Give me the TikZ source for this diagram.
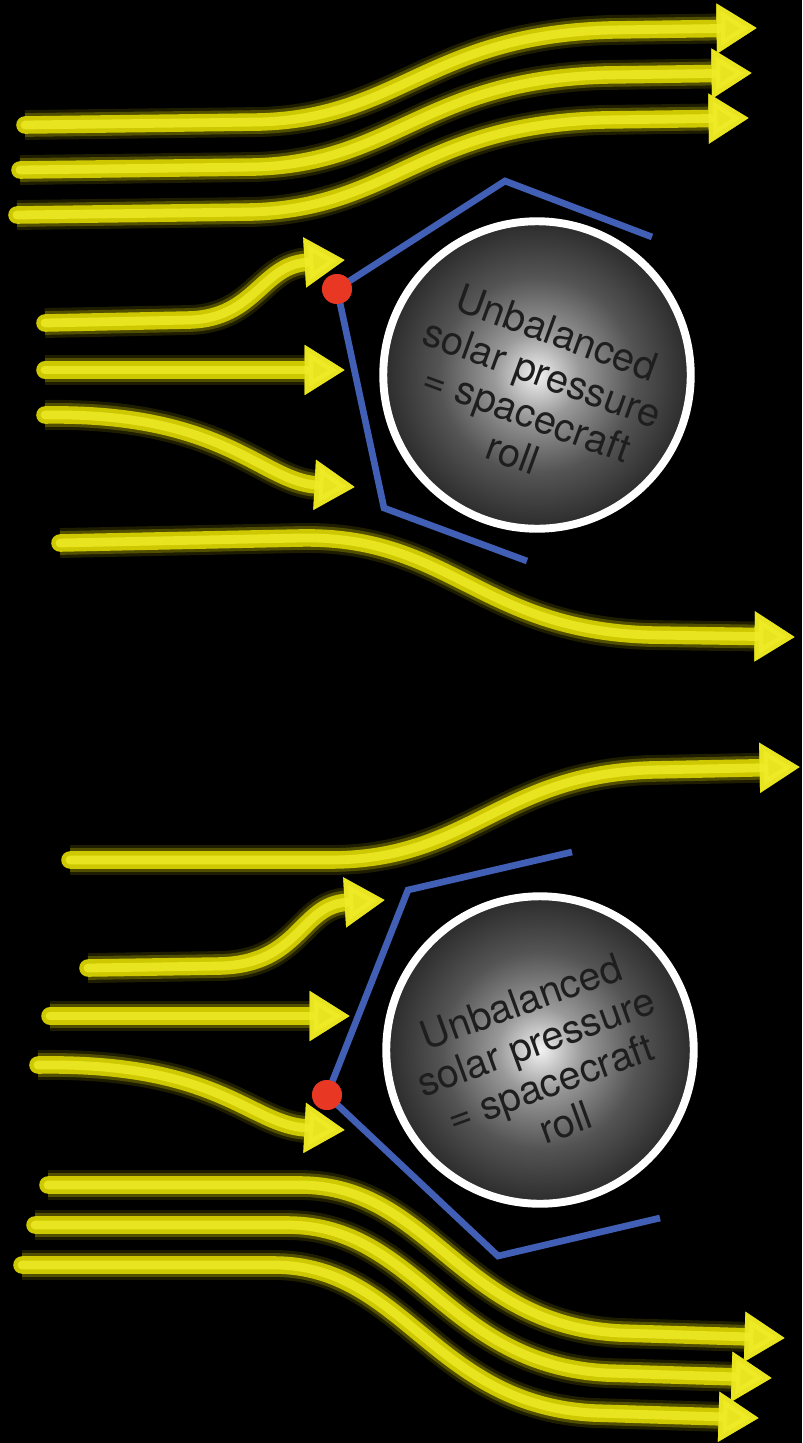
\documentclass[tikz,border=0pt]{standalone}
\usepackage{fontspec}
\newfontfamily\helv{TeX Gyre Heros}
\usetikzlibrary{arrows.meta}

\definecolor{raymid}{RGB}{205,200,0}
\definecolor{raycore}{RGB}{240,236,40}
\definecolor{shieldblue}{RGB}{65,95,180}
\definecolor{pivotred}{RGB}{232,55,35}
\definecolor{capgray}{RGB}{30,30,30}

% gray sphere, light in the middle
\pgfdeclareradialshading{sphere}{\pgfpoint{0bp}{0bp}}{%
  color(0bp)=(black!5); color(7bp)=(black!40); color(16bp)=(black!67); color(25bp)=(black!83); color(50bp)=(black!83)}

\begin{document}
\begin{tikzpicture}[x=0.02cm, y=-0.02cm,
    ray/.style={draw=raymid, line width=10pt, line cap=round,
        -{Triangle[length=23pt, width=27pt]},
        preaction={draw=raymid, line width=17pt, opacity=.15},
        preaction={draw=raymid, line width=13.5pt, opacity=.3},
        postaction={draw=raycore, line width=5pt, opacity=.8}},
    ball/.style={circle, inner sep=0pt, minimum size=175pt, shading=sphere, draw=white, line width=4.5pt},
    caption/.style={align=center, text=capgray, font=\helv\fontsize{22.5}{24.5}\selectfont},
    shield/.style={draw=shieldblue, line width=3.8pt, line join=miter},
    pivot/.style={circle, inner sep=0pt, minimum size=17pt, fill=pivotred}]
    \path[use as bounding box, fill=black] (0,0) rectangle (802,1443);

    % upper case: hinge on the top left of the sail
    \draw[ray] (25,125) -- (260,122) .. controls (400,118) and (430,35) .. (610,30) -- (757,28);
    \draw[ray] (20,170) -- (255,167) .. controls (395,163) and (425,80) .. (605,75) -- (752,73);
    \draw[ray] (17,215) -- (252,212) .. controls (392,208) and (422,125) .. (602,120) -- (749,118);

    \draw[ray] (45,323) -- (190,320) .. controls (255,318) and (262,265) .. (345,260);
    \draw[ray] (45,370) -- (345,370);
    \draw[ray] (45,415) .. controls (225,412) and (262,482) .. (355,487);

    \draw[ray] (60,543) -- (300,538) .. controls (450,535) and (480,630) .. (650,635) -- (795,637);

    \coordinate (topEnd) at (652,237);
    \coordinate (topApex) at (505,181);
    \coordinate (topCorner) at (384,508);
    \coordinate (topTail) at (527,561);

    \node[ball] (ballTop) at (537,375) {};
    \node[caption, rotate=-20] (textTop) at (535,393) {Unbalanced\\solar pressure\\= spacecraft\\roll};

    \node[pivot] (pivotTop) at (337,289) {};
    \draw[shield] (topEnd) -- (topApex) -- (pivotTop.center) -- (topCorner) -- (topTail);
    \node[pivot] at (pivotTop) {};

    % lower case: hinge on the bottom left of the sail
    \draw[ray] (70,860) -- (330,860) .. controls (470,860) and (500,775) .. (650,770) -- (800,767);

    \draw[ray] (88,968) -- (220,966) .. controls (300,964) and (300,905) .. (385,900);
    \draw[ray] (50,1016) -- (350,1016);
    \draw[ray] (38,1065) .. controls (220,1062) and (250,1125) .. (345,1130);

    \draw[ray] (48,1185) -- (300,1185) .. controls (430,1185) and (460,1325) .. (620,1333) -- (785,1338);
    \draw[ray] (35,1225) -- (287,1225) .. controls (417,1225) and (447,1365) .. (607,1373) -- (772,1378);
    \draw[ray] (22,1265) -- (274,1265) .. controls (404,1265) and (434,1405) .. (594,1413) -- (759,1418);

    \coordinate (botEnd) at (572,852);
    \coordinate (botApex) at (408,890);
    \coordinate (botCorner) at (498,1256);
    \coordinate (botTail) at (660,1218);

    \node[ball] (ballBot) at (540,1050) {};
    \node[caption, rotate=20] (textBot) at (543,1062) {Unbalanced\\solar pressure\\= spacecraft\\roll};

    \node[pivot] (pivotBot) at (327,1095) {};
    \draw[shield] (botEnd) -- (botApex) -- (pivotBot.center) -- (botCorner) -- (botTail);
    \node[pivot] at (pivotBot) {};
\end{tikzpicture}
\end{document}
